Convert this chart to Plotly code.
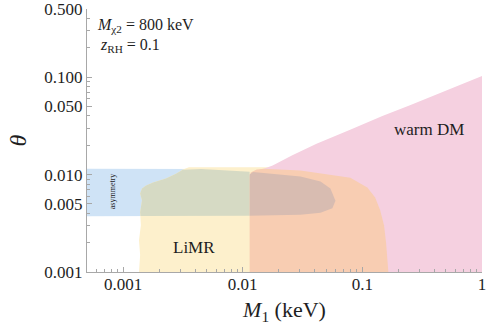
import math
import plotly.graph_objects as go

# region outlines: M1 in keV, theta dimensionless
warm_dm_x = [0.0125, 0.0125, 0.0150, 0.0178, 0.0260, 0.0414, 0.080, 0.147, 0.250, 0.383, 0.600, 1.0, 1.0]
warm_dm_y = [0.001, 0.0105, 0.0115, 0.0124, 0.0158, 0.0207, 0.0290, 0.040, 0.0515, 0.064, 0.080, 0.1024, 0.001]

limr_x = [0.00136, 0.00139, 0.00136, 0.00141, 0.00139, 0.00144, 0.00139, 0.00144, 0.00156,
          0.00178, 0.00228, 0.00277, 0.00316, 0.00355, 0.0171, 0.0171]
limr_y = [0.001, 0.00149, 0.00212, 0.00302, 0.0041, 0.00543, 0.0064, 0.0072, 0.00773,
          0.00829, 0.0091, 0.0102, 0.01125, 0.0119, 0.0119, 0.001]

tension_x = [0.01143, 0.01143, 0.01166, 0.0131, 0.0150, 0.0304, 0.0794, 0.110, 0.128, 0.141, 0.152, 0.158, 0.165]
tension_y = [0.001, 0.0095, 0.01047, 0.01125, 0.0115, 0.0110, 0.0093, 0.00736, 0.0058, 0.0043, 0.0030, 0.00198, 0.001]

asym_x = [0.0005, 0.0045, 0.0117, 0.0304, 0.0447, 0.0541, 0.0596, 0.0562, 0.0447, 0.0304, 0.0117, 0.0005]
asym_y = [0.0115, 0.0114, 0.0107, 0.00955, 0.0085, 0.0072, 0.0054, 0.0045, 0.00405, 0.00386, 0.00377, 0.00373]

# asymmetry band where it overlaps LiMR and the orange region
asym_limr_x = [0.00140, 0.00139, 0.00144, 0.00139, 0.00144, 0.00156, 0.00178, 0.00228,
               0.00277, 0.00316, 0.0045, 0.01143, 0.01143]
asym_limr_y = [0.00376, 0.0041, 0.00543, 0.0064, 0.0072, 0.00773, 0.00829, 0.0091,
               0.0102, 0.0112, 0.0114, 0.0107, 0.00377]
asym_tension_x = [0.01143, 0.0122, 0.0304, 0.0447, 0.0541, 0.0596, 0.0562, 0.0447, 0.0304, 0.01143]
asym_tension_y = [0.0100, 0.0106, 0.00955, 0.0085, 0.0072, 0.0054, 0.0045, 0.00405, 0.00386, 0.00377]

x_ticks = [0.001, 0.01, 0.1, 1]
x_labels = ["0.001", "0.01", "0.1", "1"]
y_ticks = [0.001, 0.005, 0.01, 0.05, 0.1, 0.5]
y_labels = ["0.001", "0.005", "0.010", "0.050", "0.100", "0.500"]

SERIF = "Liberation Serif"
AXIS = "#a8a8a8"
INK = "#1e1e1e"

regions = [
    (asym_x, asym_y, "#cfe3f6"),
    (limr_x, limr_y, "#fdf0cc"),
    (warm_dm_x, warm_dm_y, "#f5d0e0"),
    (tension_x, tension_y, "#f8cdb2"),
    (asym_limr_x, asym_limr_y, "#d6dac4"),
    (asym_tension_x, asym_tension_y, "#d8bcb1"),
]

fig = go.Figure()
for xs, ys, col in regions:
    fig.add_trace(go.Scatter(
        x=xs, y=ys, mode="lines", fill="toself", fillcolor=col,
        line=dict(width=0, color=col), hoverinfo="skip", showlegend=False,
    ))


def minor_vals(lo_exp, hi_exp, lo, hi, skip=()):
    vals = []
    for e in range(lo_exp, hi_exp + 1):
        for m in range(2, 10):
            v = m * 10.0 ** e
            if lo <= v <= hi and m not in skip:
                vals.append(v)
    return vals


x_minor = minor_vals(-4, -1, 0.0005, 1)
y_minor = minor_vals(-3, -1, 0.001, 0.5, skip=(5,))

common_x = dict(type="log", range=[-3.301, 0], showgrid=False, zeroline=False, automargin=False,
                ticks="inside", tickcolor=AXIS, ticklen=5, tickwidth=1,
                minor=dict(tickvals=x_minor, ticks="inside", ticklen=3, tickcolor=AXIS))
common_y = dict(type="log", range=[-3, -0.301], showgrid=False, zeroline=False, automargin=False,
                ticks="inside", tickcolor=AXIS, ticklen=5, tickwidth=1,
                minor=dict(tickvals=y_minor, ticks="inside", ticklen=3, tickcolor=AXIS))

fig.update_layout(
    width=498, height=332,
    margin=dict(l=87, r=16, t=9, b=60),
    paper_bgcolor="white", plot_bgcolor="white",
    font=dict(family=SERIF, size=17, color=INK),
    xaxis=dict(**common_x, tickmode="array", tickvals=x_ticks, ticktext=x_labels,
               showline=True, linecolor=AXIS, linewidth=1, ticklabelstandoff=-3,
               title=dict(text="<i>M</i><sub>1</sub> (keV)", font=dict(size=22), standoff=8)),
    yaxis=dict(**common_y, tickmode="array", tickvals=y_ticks, ticktext=y_labels,
               showline=True, linecolor=AXIS, linewidth=1, ticklabeloverflow="allow",
               title=dict(text="<i>θ</i>", font=dict(size=24), standoff=10)),
    xaxis2=dict(**common_x, overlaying="x", side="top", anchor="y", tickmode="array",
                tickvals=x_ticks, showticklabels=False, showline=False),
    yaxis2=dict(**common_y, overlaying="y", side="right", anchor="x", tickmode="array",
                tickvals=y_ticks, showticklabels=False, showline=True, linecolor=AXIS),
)

notes = [
    (0.00058, 0.34, "<i>M</i><sub>χ2</sub> = 800 keV", 16, "left", 0),
    (0.00062, 0.21, "<i>z</i><sub>RH</sub> = 0.1", 16, "left", 0),
    (0.00083, 0.0068, "asymmetry", 8, "center", -90),
    (0.0039, 0.0018, "LiMR", 17, "center", 0),
    (0.36, 0.029, "warm DM", 17, "center", 0),
]
for nx, ny, txt, size, align, ang in notes:
    fig.add_annotation(x=math.log10(nx), y=math.log10(ny), xref="x", yref="y", text=txt,
                       showarrow=False, xanchor=align, textangle=ang,
                       font=dict(family=SERIF, size=size, color=INK))

# drop the default 8px page margin so the figure sits at the window corner
fig.write_html("out.html", config={"displayModeBar": False},
               post_script="document.body.style.margin = '0';")
